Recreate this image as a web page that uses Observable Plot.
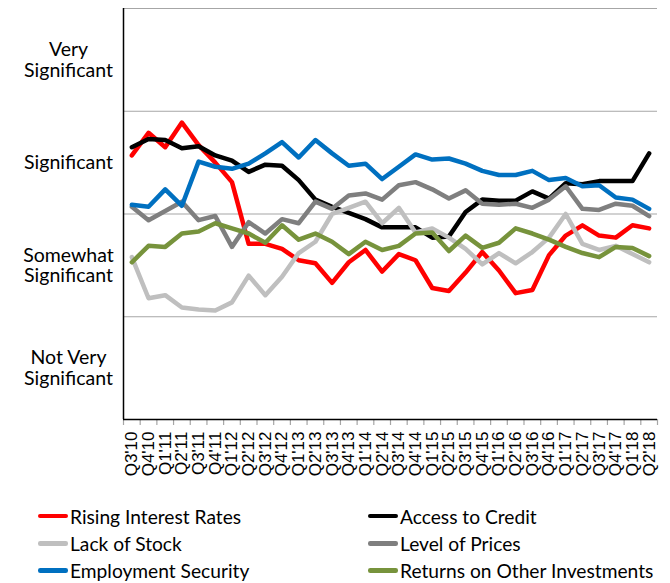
<!DOCTYPE html>
<html><head><meta charset="utf-8">
<script src="https://cdn.jsdelivr.net/npm/d3@7"></script>
<script src="https://cdn.jsdelivr.net/npm/@observablehq/plot@0.6"></script>
<style>
body{margin:0;background:#fff;}
#chart{position:relative;width:670px;height:583px;overflow:hidden;}
#legend{position:absolute;left:0;top:500px;width:670px;height:83px;font-family:Lato,sans-serif;font-size:19.2px;color:#000;}
.item{position:absolute;display:flex;align-items:center;height:28px;white-space:nowrap;}
.sw{width:30px;height:4.5px;border-radius:2.25px;margin-right:2px;}
</style></head><body><div id="chart"></div>
<script>
const quarters = ["Q3'10","Q4'10","Q1'11","Q2'11","Q3'11","Q4'11","Q1'12","Q2'12","Q3'12","Q4'12",
  "Q1'13","Q2'13","Q3'13","Q4'13","Q1'14","Q2'14","Q3'14","Q4'14","Q1'15","Q2'15","Q3'15","Q4'15",
  "Q1'16","Q2'16","Q3'16","Q4'16","Q1'17","Q2'17","Q3'17","Q4'17","Q1'18","Q2'18"];
const levelLabels = ["Not Very\nSignificant","Somewhat\nSignificant","Significant","Very\nSignificant"];
const levelPositions = [0.5,1.5,2.5,3.5];
const seriesNames = ["Rising Interest Rates","Access to Credit","Lack of Stock","Level of Prices","Employment Security","Returns on Other Investments"];
const seriesColors = ["#ff0000","#000000","#bfbfbf","#7f7f7f","#0070c0","#77933c"];
const risingInterestRates = [2.57,2.79,2.65,2.89,2.67,2.50,2.31,1.71,1.71,1.66,1.55,1.52,1.33,1.53,1.65,1.44,1.61,1.55,1.28,1.25,1.43,1.63,1.45,1.23,1.26,1.60,1.79,1.89,1.79,1.77,1.89,1.86];
const accessToCredit = [2.65,2.73,2.72,2.64,2.66,2.57,2.52,2.41,2.48,2.47,2.33,2.14,2.07,2.01,1.95,1.87,1.87,1.87,1.77,1.78,2.02,2.14,2.13,2.13,2.22,2.15,2.30,2.29,2.32,2.32,2.32,2.59];
const lackOfStock = [1.58,1.18,1.21,1.09,1.07,1.06,1.14,1.40,1.21,1.39,1.62,1.73,2.00,2.06,2.12,1.91,2.06,1.82,1.86,1.77,1.66,1.51,1.62,1.52,1.63,1.77,2.00,1.71,1.65,1.69,1.61,1.53];
const levelOfPrices = [2.07,1.94,2.03,2.12,1.94,1.98,1.68,1.92,1.81,1.95,1.91,2.12,2.05,2.18,2.20,2.14,2.28,2.31,2.24,2.15,2.23,2.10,2.09,2.10,2.06,2.14,2.27,2.05,2.04,2.10,2.08,1.98];
const employmentSecurity = [2.09,2.07,2.24,2.08,2.51,2.46,2.44,2.49,2.59,2.70,2.55,2.72,2.59,2.47,2.49,2.34,2.46,2.58,2.53,2.54,2.49,2.42,2.38,2.38,2.42,2.33,2.35,2.27,2.28,2.16,2.14,2.05];
const returnsOnOtherInvestments = [1.53,1.69,1.68,1.81,1.83,1.91,1.86,1.81,1.72,1.89,1.75,1.81,1.73,1.61,1.73,1.65,1.69,1.81,1.82,1.64,1.79,1.67,1.72,1.86,1.81,1.75,1.68,1.62,1.58,1.68,1.67,1.59];

const seriesValues = [risingInterestRates, accessToCredit, lackOfStock, levelOfPrices, employmentSecurity, returnsOnOtherInvestments];
const idx = quarters.map((q, i) => i);

const lineMarks = seriesValues.map((vals, s) =>
  Plot.line(vals.map((v, i) => ({i, v})), {x: "i", y: "v", stroke: seriesColors[s], strokeWidth: 4.5, strokeLinejoin: "round", strokeLinecap: "round"})
);

const plot = Plot.plot({
  width: 670, height: 500,
  marginLeft: 123, marginRight: 13, marginTop: 8, marginBottom: 81,
  style: {fontFamily: "Lato, sans-serif", background: "#fff"},
  x: {type: "linear", domain: [-0.5, quarters.length - 0.5], label: null},
  y: {domain: [0, 4], label: null},
  marks: [
    Plot.ruleY([1, 2, 3, 4], {stroke: "#a6a6a6", strokeWidth: 1.2}),
    Plot.axisX(d3.range(quarters.length + 1).map(i => i - 0.5), {tickSize: 6, tickFormat: () => "", stroke: "#a6a6a6", strokeWidth: 1.2, label: null}),
    Plot.axisX(idx, {tickSize: 0, tickPadding: 12, tickRotate: -90, tickFormat: i => quarters[i], fontSize: 17, fontFamily: "Liberation Sans, Arial, sans-serif", fill: "#000", label: null}),
    Plot.axisY(levelPositions, {tickSize: 0, tickPadding: 0, textAnchor: "middle", dx: -55, tickFormat: (d, k) => levelLabels[k], fontSize: 19.5, lineHeight: 1.07, fill: "#000", fontFamily: "Lato, sans-serif", label: null}),
    ...lineMarks,
    Plot.ruleY([0], {stroke: "#000", strokeWidth: 1.5}),
    Plot.ruleX([-0.5], {y1: 0, y2: 4, stroke: "#000", strokeWidth: 1.5})
  ]
});
const chart = document.getElementById("chart");
chart.appendChild(plot);

const legend = document.createElement("div");
legend.id = "legend";
const colX = [38, 368];
const rowY = [2, 29.3, 56.7];
seriesNames.forEach((name, s) => {
  const it = document.createElement("div");
  it.className = "item";
  it.style.left = colX[s % 2] + "px";
  it.style.top = rowY[Math.floor(s / 2)] + "px";
  const sw = document.createElement("span");
  sw.className = "sw";
  sw.style.background = seriesColors[s];
  const tx = document.createElement("span");
  tx.textContent = name;
  it.appendChild(sw); it.appendChild(tx);
  legend.appendChild(it);
});
chart.appendChild(legend);
</script>
</body></html>
